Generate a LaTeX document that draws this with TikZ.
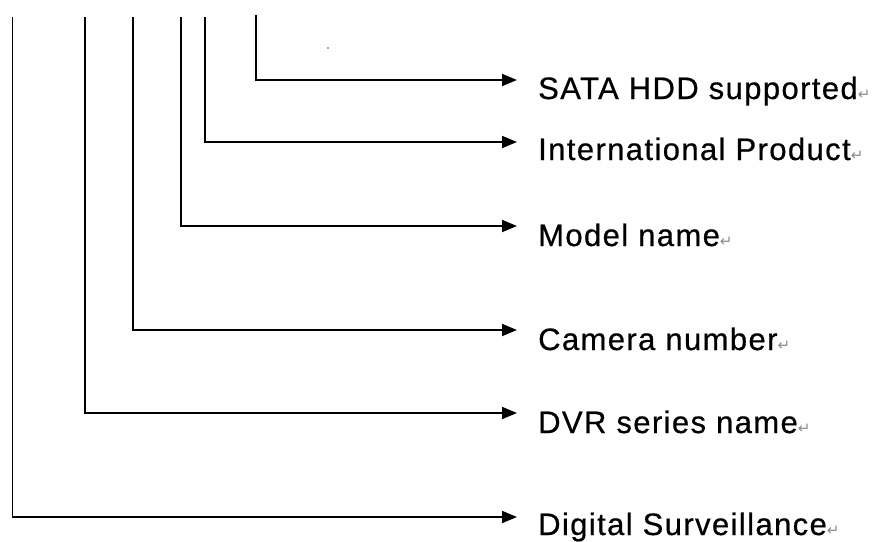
\documentclass[tikz,border=0pt]{standalone}
\usepackage{fontspec}
\setmainfont{Liberation Sans}[LetterSpace=4.5,FakeBold=0.6]
\newfontfamily\symfont{DejaVu Sans}
\usepackage{xcolor}
\usetikzlibrary{arrows.meta}

\tikzset{
  codeline/.style={line width=1.8pt, -{Triangle[length=15pt,width=12pt]}},
  codelabel/.style={anchor=base west, inner sep=0pt, font=\fontsize{31}{36}\selectfont},
}
\newcommand{\retmark}{{\symfont\fontsize{15}{15}\selectfont\color{black!45}↵}}

\begin{document}
\begin{tikzpicture}[x=1pt,y=-1pt]
  \useasboundingbox (0,0) rectangle (880,541);

  %Tops of the lines
  \coordinate (tDigital) at (12.5,17);
  \coordinate (tDVR)     at (85,17);
  \coordinate (tCamera)  at (133,17);
  \coordinate (tModel)   at (181,17);
  \coordinate (tIntl)    at (205,17);
  \coordinate (tSata)    at (256,15);

  %Arrow tips
  \coordinate (aSata)    at (517,80);
  \coordinate (aIntl)    at (517,142);
  \coordinate (aModel)   at (517,226);
  \coordinate (aCamera)  at (517,330);
  \coordinate (aDVR)     at (517,413);
  \coordinate (aDigital) at (517,517);

  %Labels
  \node [codelabel] (lSata)    at (538,99)  {SATA HDD supported\retmark};
  \node [codelabel] (lIntl)    at (538,160) {International Product\retmark};
  \node [codelabel] (lModel)   at (538,246) {Model name\retmark};
  \node [codelabel] (lCamera)  at (538,350) {Camera number\retmark};
  \node [codelabel] (lDVR)     at (538,433) {DVR series name\retmark};
  \node [codelabel] (lDigital) at (538,535) {Digital Surveillance\retmark};

  %Lines and arrows
  \draw [codeline] (tSata)    |- (aSata);
  \draw [codeline] (tIntl)    |- (aIntl);
  \draw [codeline] (tModel)   |- (aModel);
  \draw [codeline] (tCamera)  |- (aCamera);
  \draw [codeline] (tDVR)     |- (aDVR);
  \draw [codeline] (tDigital) |- (aDigital);

  \fill [black!70] (328,48) circle (0.9pt);
\end{tikzpicture}
\end{document}
